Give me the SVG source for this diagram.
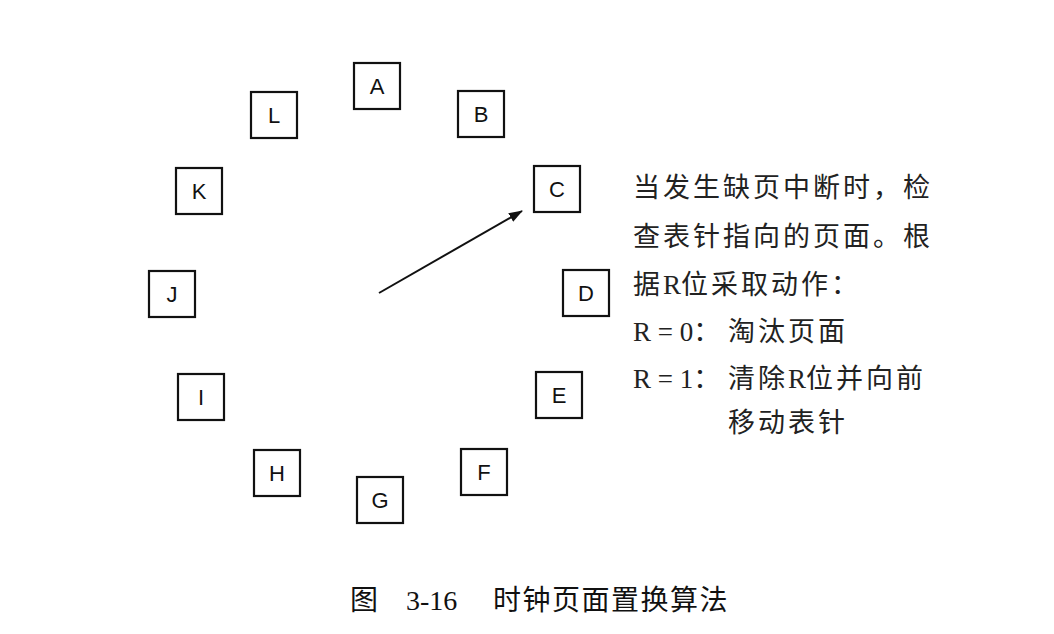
<svg xmlns="http://www.w3.org/2000/svg" width="1054" height="634" viewBox="0 0 1054 634">
<style>
.box rect{fill:#fff;stroke:#111;stroke-width:2.2}
.box text{font-family:"Liberation Sans",Arial,sans-serif;font-size:22px;fill:#111;text-anchor:middle}
.desc{font-family:"Liberation Serif","Noto Sans CJK SC",serif;font-size:27px;fill:#222}
.cjk{letter-spacing:3px}
.cap{font-family:"Liberation Serif","Noto Sans CJK SC",serif;font-size:28px;fill:#111}
</style>
<defs>
<marker id="arr" markerWidth="14" markerHeight="10" refX="13" refY="5" orient="auto" markerUnits="userSpaceOnUse">
<path d="M0,0 L14,5 L0,10 Z" fill="#111"/>
</marker>
</defs>
<rect width="1054" height="634" fill="#fff"/>
<g id="node-A" class="box"><rect x="354" y="63" width="46" height="46"/><text x="377" y="94">A</text></g>
<g id="node-B" class="box"><rect x="458" y="91" width="46" height="46"/><text x="481" y="122">B</text></g>
<g id="node-C" class="box"><rect x="534" y="166" width="46" height="46"/><text x="557" y="197">C</text></g>
<g id="node-D" class="box"><rect x="563" y="270" width="46" height="46"/><text x="586" y="301">D</text></g>
<g id="node-E" class="box"><rect x="536" y="372" width="46" height="46"/><text x="559" y="403">E</text></g>
<g id="node-F" class="box"><rect x="461" y="449" width="46" height="46"/><text x="484" y="480">F</text></g>
<g id="node-G" class="box"><rect x="357" y="477" width="46" height="46"/><text x="380" y="508">G</text></g>
<g id="node-H" class="box"><rect x="254" y="450" width="46" height="46"/><text x="277" y="481">H</text></g>
<g id="node-I" class="box"><rect x="178" y="374" width="46" height="46"/><text x="201" y="405">I</text></g>
<g id="node-J" class="box"><rect x="149" y="271" width="46" height="46"/><text x="172" y="302">J</text></g>
<g id="node-K" class="box"><rect x="176" y="168" width="46" height="46"/><text x="199" y="199">K</text></g>
<g id="node-L" class="box"><rect x="251" y="92" width="46" height="46"/><text x="274" y="123">L</text></g>
<g id="connectors">
<line x1="379" y1="293" x2="522" y2="211" stroke="#111" stroke-width="2" marker-end="url(#arr)"/>
</g>
<g id="description" class="desc">
<text x="633" y="197" class="cjk">当发生缺页中断时，检</text>
<text x="633" y="246" class="cjk">查表针指向的页面。根</text>
<text x="633" y="294"><tspan class="cjk">据</tspan>R<tspan class="cjk">位采取动作：</tspan></text>
<text x="633" y="341">R = 0<tspan class="cjk">：</tspan><tspan x="728" class="cjk">淘汰页面</tspan></text>
<text x="633" y="388">R = 1<tspan class="cjk">：</tspan><tspan x="728" class="cjk">清除</tspan>R<tspan class="cjk">位并向前</tspan></text>
<text x="728" y="432" class="cjk">移动表针</text>
</g>
<g id="caption" class="cap">
<text x="350" y="610">图</text>
<text x="406" y="610">3-16</text>
<text x="493" y="610" letter-spacing="1.5">时钟页面置换算法</text>
</g>
</svg>
